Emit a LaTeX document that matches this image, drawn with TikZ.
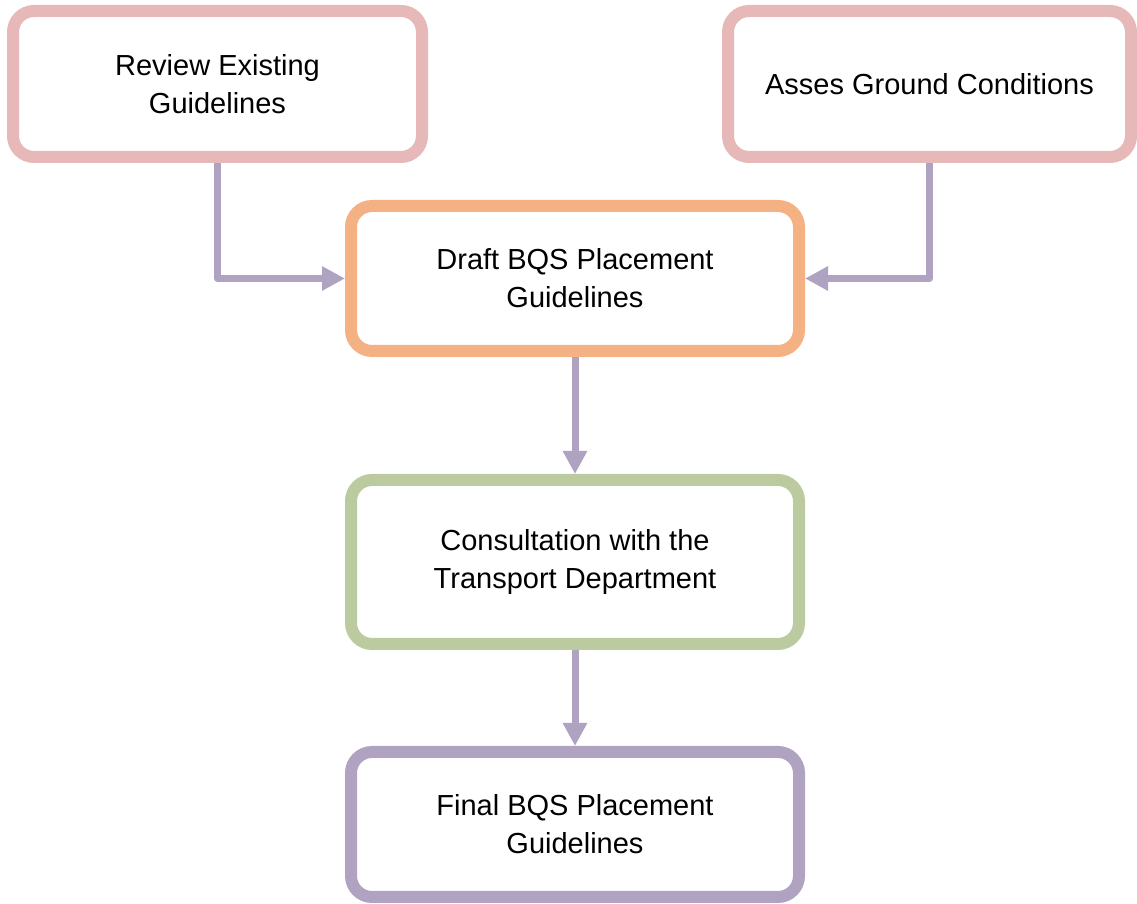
\documentclass[tikz,border=0pt]{standalone}
\usepackage{fontspec}
\setmainfont{Liberation Sans}
\usetikzlibrary{arrows.meta}
\definecolor{pinkline}{HTML}{E6B9B8}
\definecolor{orangeline}{HTML}{F4B183}
\definecolor{greenline}{HTML}{BBCA9F}
\definecolor{purpleline}{HTML}{B0A3C1}
\begin{document}
\begin{tikzpicture}[
        box/.style={draw, rectangle, rounded corners=0.42cm, line width=0.24cm, minimum width=8.96cm, minimum height=2.9cm, align=center, fill=white, font=\fontsize{16.5pt}{21.6pt}\selectfont},
        arrow/.style={line width=0.14cm, draw=purpleline, line join=round, -{Triangle[length=0.46cm, width=0.46cm]}}
    ]
    \useasboundingbox (0,0) rectangle (22.74,18.08);

    % Explicit coordinates, measured from the page
    \node[box, draw=pinkline, minimum width=8.18cm, minimum height=2.92cm] (review) at (4.35, 16.40) {Review Existing\\Guidelines};
    \node[box, draw=pinkline, minimum width=8.06cm, minimum height=2.92cm] (ground) at (18.59, 16.40) {Asses Ground Conditions};
    \node[box, draw=orangeline] (draft) at (11.50, 12.51) {Draft BQS Placement\\Guidelines};
    \node[box, draw=greenline, minimum height=3.28cm] (consult) at (11.50, 6.84) {Consultation with the\\Transport Department};
    \node[box, draw=purpleline] (final) at (11.50, 1.59) {Final BQS Placement\\Guidelines};

    % Inputs into the draft
    \draw[arrow] (review.south) |- (draft.west);
    \draw[arrow] (ground.south) |- (draft.east);

    % Connections down
    \draw[arrow] (draft) -- (consult);
    \draw[arrow] (consult) -- (final);

    \end{tikzpicture}
\end{document}
